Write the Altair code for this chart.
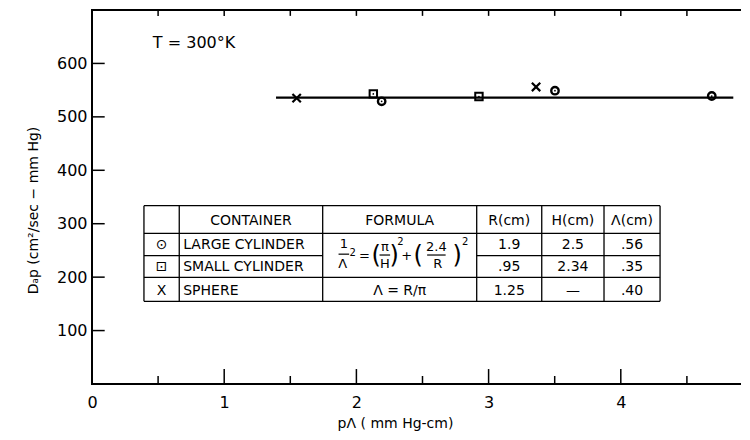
import altair as alt
import pandas as pd

# ---- data ----
large_x = [2.191, 3.502, 4.688]
large_y = [529, 549, 539]
small_x = [2.128, 2.927]
small_y = [543, 538]
sphere_x = [1.548, 3.359]
sphere_y = [535, 556]
fit_x = [1.392, 4.851]
fit_y = [536, 536]

x_ticks = [0, 1, 2, 3, 4, 5]
y_ticks = [100, 200, 300, 400, 500, 600]

# table content
containers = ["LARGE CYLINDER", "SMALL CYLINDER", "SPHERE"]
symbols = ["⊙", "⊡", "X"]
r_vals = ["1.9", ".95", "1.25"]
h_vals = ["2.5", "2.34", "—"]
lam_vals = [".56", ".35", ".40"]
headers = ["CONTAINER", "FORMULA", "R(cm)", "H(cm)", "Λ(cm)"]

# table geometry (data units)
col_edges = [0.393, 0.660, 1.745, 2.910, 3.402, 3.873, 4.297]
row_edges = [333.7, 282, 240.1, 199.7, 154.8]
header_y = 304.5
row_y = [260.7, 219.6, 173.5]

FONT = "DejaVu Sans"

X = alt.X("x:Q", scale=alt.Scale(domain=[0, 5], nice=False, zero=False),
          axis=alt.Axis(values=x_ticks, title="pΛ ( mm Hg-cm)", format="d",
                        labelPadding=10, labelFlush=False, titleX=303, titleY=39,
                        titleBaseline="middle", titleFontSize=14))
Y = alt.Y("y:Q", scale=alt.Scale(domain=[0, 700], nice=False, zero=False),
          axis=alt.Axis(values=y_ticks, title="Dₐp (cm²/sec − mm Hg)", format="d",
                        labelPadding=5, titleX=-59, titleY=200, titleAngle=270,
                        titleAlign="center", titleBaseline="middle",
                        titleFontSize=14))

# --- frame ticks (inward) ---
tick_rows = []
for v in y_ticks:
    tick_rows.append(dict(x=0, x2=0.096, y=v, y2=v))
    tick_rows.append(dict(x=4.915, x2=5, y=v, y2=v))
for v in [1, 2, 3, 4]:
    tick_rows.append(dict(x=v, x2=v, y=0, y2=28))
for v in [0.5, 1.5, 2.5, 3.5, 4.5]:
    tick_rows.append(dict(x=v, x2=v, y=0, y2=15))
for v in [0.5, 1, 1.5, 2, 2.5, 3, 3.5, 4, 4.5]:
    tick_rows.append(dict(x=v, x2=v, y=700, y2=689))
ticks = alt.Chart(pd.DataFrame(tick_rows)).mark_rule(color="black", strokeWidth=1.5).encode(
    x=X, y=Y, x2="x2:Q", y2="y2:Q")

# --- fit line ---
fit = alt.Chart(pd.DataFrame({"x": fit_x, "y": fit_y})).mark_line(
    color="black", strokeWidth=2.2).encode(x=X, y=Y)

# --- markers ---
large = pd.DataFrame({"x": large_x, "y": large_y})
small = pd.DataFrame({"x": small_x, "y": small_y})
sph = pd.DataFrame({"x": sphere_x, "y": sphere_y})
circ = alt.Chart(large).mark_point(shape="circle", filled=False, color="black",
                                   strokeWidth=2.4, size=55, opacity=1).encode(x=X, y=Y)
sq = alt.Chart(small).mark_point(shape="square", filled=False, color="black",
                                 strokeWidth=2, size=55, opacity=1).encode(x=X, y=Y)
dots = alt.Chart(pd.concat([large, small])).mark_point(
    shape="circle", filled=True, color="black", size=3, opacity=1).encode(x=X, y=Y)
xs = alt.Chart(sph).mark_point(shape="M-1,-1L1,1M-1,1L1,-1", filled=False, color="black",
                               strokeWidth=2.2, size=70, opacity=1).encode(x=X, y=Y)

# --- table lines ---
lines = []
for i, y in enumerate(row_edges):
    if i == 2:
        lines.append(dict(x=col_edges[0], x2=col_edges[2], y=y, y2=y))
        lines.append(dict(x=col_edges[3], x2=col_edges[6], y=y, y2=y))
    else:
        lines.append(dict(x=col_edges[0], x2=col_edges[6], y=y, y2=y))
for c in col_edges:
    lines.append(dict(x=c, x2=c, y=row_edges[0], y2=row_edges[-1]))
table_lines = alt.Chart(pd.DataFrame(lines)).mark_rule(color="black", strokeWidth=1.3).encode(
    x=X, y=Y, x2="x2:Q", y2="y2:Q")

# --- table text ---
centers = [(col_edges[i] + col_edges[i + 1]) / 2 for i in range(6)]
ctext = []
for h, cx in zip(headers, centers[1:]):
    ctext.append(dict(x=cx, y=header_y, t=h))
for i in range(3):
    ctext.append(dict(x=centers[0], y=row_y[i], t=symbols[i]))
    ctext.append(dict(x=centers[3], y=row_y[i], t=r_vals[i]))
    ctext.append(dict(x=centers[4], y=row_y[i], t=h_vals[i]))
    ctext.append(dict(x=centers[5], y=row_y[i], t=lam_vals[i]))
ctext.append(dict(x=centers[2], y=row_y[2], t="Λ = R/π"))
center_text = alt.Chart(pd.DataFrame(ctext)).mark_text(
    font=FONT, fontSize=14, color="black", align="center", baseline="middle").encode(
    x=X, y=Y, text="t:N")

ltext = pd.DataFrame({"x": [0.69] * 3, "y": row_y, "t": containers})
left_text = alt.Chart(ltext).mark_text(
    font=FONT, fontSize=14, color="black", align="left", baseline="middle").encode(
    x=X, y=Y, text="t:N")

# --- formula (stacked fractions) ---
f_norm = pd.DataFrame({
    "x": [1.905, 1.897, 2.060, 2.215, 2.215, 2.380, 2.605, 2.615],
    "y": [262, 225, 239.6, 256, 224.6, 239.6, 256, 224.6],
    "t": ["1", "Λ", "=", "π", "H", "+", "2.4", "R"],
})
f_sup = pd.DataFrame({
    "x": [1.972, 2.333, 2.823],
    "y": [246, 266, 266],
    "t": ["2", "2", "2"],
})
f_par = pd.DataFrame({
    "x": [2.150, 2.285, 2.467, 2.763],
    "y": [239.6, 239.6, 239.6, 239.6],
    "t": ["(", ")", "(", ")"],
})
f_bars = pd.DataFrame({
    "x": [1.865, 2.175, 2.535],
    "x2": [1.945, 2.255, 2.675],
    "y": [243, 241.4, 241.4],
    "y2": [243, 241.4, 241.4],
})
formula = (
    alt.Chart(f_norm).mark_text(font=FONT, fontSize=13, color="black", baseline="middle").encode(x=X, y=Y, text="t:N")
    + alt.Chart(f_sup).mark_text(font=FONT, fontSize=10, color="black", baseline="middle").encode(x=X, y=Y, text="t:N")
    + alt.Chart(f_par).mark_text(font=FONT, fontSize=24, color="black", baseline="middle").encode(x=X, y=Y, text="t:N")
    + alt.Chart(f_bars).mark_rule(color="black", strokeWidth=1.2).encode(x=X, y=Y, x2="x2:Q", y2="y2:Q")
)

temp = alt.Chart(pd.DataFrame({"x": [0.772], "y": [638], "t": ["T = 300°K"]})).mark_text(
    font=FONT, fontSize=16, color="black", baseline="middle").encode(x=X, y=Y, text="t:N")

chart = alt.layer(
    ticks, fit, circ, sq, dots, xs, table_lines, center_text, left_text, formula, temp
).properties(
    width=661, height=374,
    autosize=alt.AutoSizeParams(type="none"),
    padding={"left": 84, "top": 2, "right": -12, "bottom": 48},
).configure_view(
    stroke="black", strokeWidth=2
).configure_axis(
    grid=False, domain=False, ticks=False,
    labelFont=FONT, labelFontSize=16, labelColor="black",
    titleFont=FONT, titleColor="black", titleFontWeight="normal",
)

chart.save("out.html", embed_options={"renderer": "svg", "actions": False})
